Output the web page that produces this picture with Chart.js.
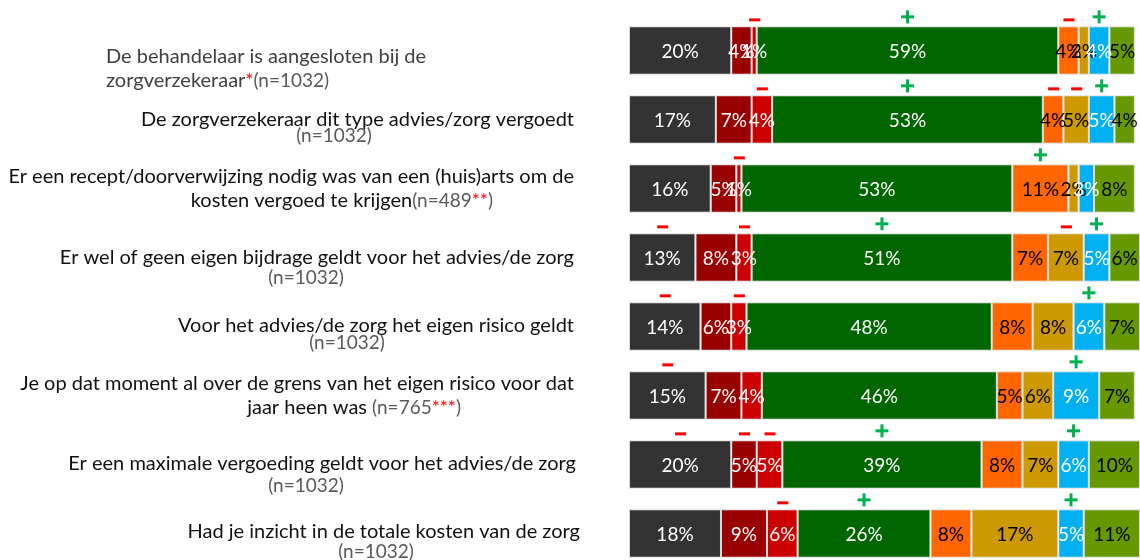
<!DOCTYPE html>
<html>
<head>
<meta charset="utf-8">
<script src="https://cdn.jsdelivr.net/npm/chart.js@4.4.1/dist/chart.umd.min.js"></script>
<style>
html, body { margin: 0; padding: 0; background: #fff; overflow: hidden; }
#wrap { width: 1140px; height: 580px; }
</style>
</head>
<body>
<div id="wrap"><canvas id="zorgChart" width="1140" height="580"></canvas></div>
<script>
// vragen (categorieen), van boven naar beneden
const categories = [
    "De behandelaar is aangesloten bij de zorgverzekeraar",
    "De zorgverzekeraar dit type advies/zorg vergoedt",
    "Er een recept/doorverwijzing nodig was van een (huis)arts om de kosten vergoed te krijgen",
    "Er wel of geen eigen bijdrage geldt voor het advies/de zorg",
    "Voor het advies/de zorg het eigen risico geldt",
    "Je op dat moment al over de grens van het eigen risico voor dat jaar heen was",
    "Er een maximale vergoeding geldt voor het advies/de zorg",
    "Had je inzicht in de totale kosten van de zorg"
];

// percentages per segment (links naar rechts)
const donkergrijs = [20, 17, 16, 13, 14, 15, 20, 18];
const donkerrood  = [4, 7, 5, 8, 6, 7, 5, 9];
const rood        = [1, 4, 1, 3, 3, 4, 5, 6];
const groen       = [59, 53, 53, 51, 48, 46, 39, 26];
const oranje      = [4, 4, 11, 7, 8, 5, 8, 8];
const goud        = [2, 5, 2, 7, 8, 6, 7, 17];
const lichtblauw  = [4, 5, 3, 5, 6, 9, 6, 5];
const olijf       = [5, 4, 8, 6, 7, 7, 10, 11];

// significantie boven segmenten: 1 = plus, -1 = min
const markers = [
    [0, 0, -1, 1, -1, 0, 1, 0],
    [0, 0, -1, 1, -1, -1, 1, 0],
    [0, 0, -1, 0, 1, 0, 0, 0],
    [-1, 0, -1, 1, 0, -1, 1, 0],
    [-1, 0, -1, 0, 0, 0, 1, 0],
    [-1, 0, 0, 0, 0, 0, 1, 0],
    [-1, -1, -1, 1, 0, 0, 1, 0],
    [0, 0, -1, 1, 0, 0, 1, 0]
];

const series = [donkergrijs, donkerrood, rood, groen, oranje, goud, lichtblauw, olijf];
const colors = ['#333333', '#990000', '#cc0000', '#006600', '#ff6600', '#cc9900', '#00b0f0', '#669900'];
const textColors = ['#fff', '#fff', '#fff', '#fff', '#000', '#000', '#fff', '#000'];

// tekst links van de balken (m = vraag, n = grijs, r = rode sterretjes)
const labelLines = [
    [{x: 106, align: 'left', dy: 6, runs: [['De behandelaar is aangesloten bij de', 'm1']]},
     {x: 106, align: 'left', dy: 30, runs: [['zorgverzekeraar', 'm1'], ['*', 'r'], ['(n=1032)', 'n']]}],
    [{x: 574, align: 'right', dy: 0, runs: [['De zorgverzekeraar dit type advies/zorg vergoedt', 'm']]},
     {x: 334, align: 'center', dy: 16, runs: [['(n=1032)', 'n']]}],
    [{x: 574, align: 'right', dy: -12, runs: [['Er een recept/doorverwijzing nodig was van een (huis)arts om de', 'm']]},
     {x: 493, align: 'right', dy: 12, runs: [['kosten vergoed te krijgen', 'm'], ['(n=489', 'n'], ['**', 'r'], [')', 'n']]}],
    [{x: 574, align: 'right', dy: 0, runs: [['Er wel of geen eigen bijdrage geldt voor het advies/de zorg', 'm']]},
     {x: 306, align: 'center', dy: 20, runs: [['(n=1032)', 'n']]}],
    [{x: 574, align: 'right', dy: -1, runs: [['Voor het advies/de zorg het eigen risico geldt', 'm']]},
     {x: 347, align: 'center', dy: 16, runs: [['(n=1032)', 'n']]}],
    [{x: 574, align: 'right', dy: -12, runs: [['Je op dat moment al over de grens van het eigen risico voor dat', 'm']]},
     {x: 461, align: 'right', dy: 12, runs: [['jaar heen was ', 'm'], ['(n=765', 'n'], ['***', 'r'], [')', 'n']]}],
    [{x: 576, align: 'right', dy: -1, runs: [['Er een maximale vergoeding geldt voor het advies/de zorg', 'm']]},
     {x: 306, align: 'center', dy: 21, runs: [['(n=1032)', 'n']]}],
    [{x: 580, align: 'right', dy: -2, runs: [['Had je inzicht in de totale kosten van de zorg', 'm']]},
     {x: 376, align: 'center', dy: 18, runs: [['(n=1032)', 'n']]}]
];

const runStyles = {
    m:  {font: '20px Lato', color: '#111111'},
    m1: {font: '20px Lato', color: '#404040'},
    n:  {font: '19px Lato', color: '#595959'},
    r:  {font: '19px Lato', color: '#ff0000'}
};

const overlay = {
    id: 'overlay',
    afterDatasetsDraw(chart) {
        const ctx = chart.ctx;
        ctx.save();
        ctx.textBaseline = 'middle';
        chart.data.datasets.forEach((ds, d) => {
            chart.getDatasetMeta(d).data.forEach((bar, i) => {
                const p = bar.getProps(['x', 'y', 'base', 'height'], true);
                const cx = (p.x + p.base) / 2;
                ctx.font = '19px Lato';
                ctx.textAlign = 'center';
                ctx.fillStyle = textColors[d];
                ctx.fillText(ds.data[i] + '%', cx, p.y + 1);
                const top = p.y - p.height / 2;
                if (markers[i][d] === -1) {
                    ctx.fillStyle = '#ff0000';
                    ctx.fillRect(cx - 5, top - 8, 11, 3);
                } else if (markers[i][d] === 1) {
                    ctx.fillStyle = '#00b050';
                    ctx.fillRect(cx - 6.5, top - 11, 13, 3);
                    ctx.fillRect(cx - 1.5, top - 16, 3, 13);
                }
            });
        });
        // labels links
        ctx.textAlign = 'left';
        const yScale = chart.scales.y;
        labelLines.forEach((lines, i) => {
            const cy = yScale.getPixelForValue(i);
            lines.forEach(line => {
                let total = 0;
                line.runs.forEach(r => { ctx.font = runStyles[r[1]].font; total += ctx.measureText(r[0]).width; });
                let x = line.x;
                if (line.align === 'right') x -= total;
                if (line.align === 'center') x -= total / 2;
                line.runs.forEach(r => {
                    const st = runStyles[r[1]];
                    ctx.font = st.font;
                    ctx.fillStyle = st.color;
                    ctx.fillText(r[0], x, cy + line.dy);
                    x += ctx.measureText(r[0]).width;
                });
            });
        });
        ctx.restore();
    }
};

let ctxZ = document.getElementById('zorgChart').getContext('2d');
new Chart(ctxZ, {
    type: 'bar',
    data: {
        labels: categories,
        datasets: series.map((vals, k) => ({
            label: 'segment ' + (k + 1),
            data: vals,
            backgroundColor: colors[k],
            borderColor: '#d9d9d9',
            borderWidth: 1,
            borderSkipped: false,
            categoryPercentage: 0.7,
            barPercentage: 1
        }))
    },
    options: {
        indexAxis: 'y',
        responsive: false,
        animation: false,
        layout: { padding: { left: 629, right: 0, top: 16, bottom: 12 } },
        scales: {
            x: { stacked: true, min: 0, max: 100, display: false },
            y: { stacked: true, display: false }
        },
        plugins: {
            legend: { display: false },
            tooltip: { enabled: false }
        }
    },
    plugins: [overlay]
});
</script>
</body>
</html>
